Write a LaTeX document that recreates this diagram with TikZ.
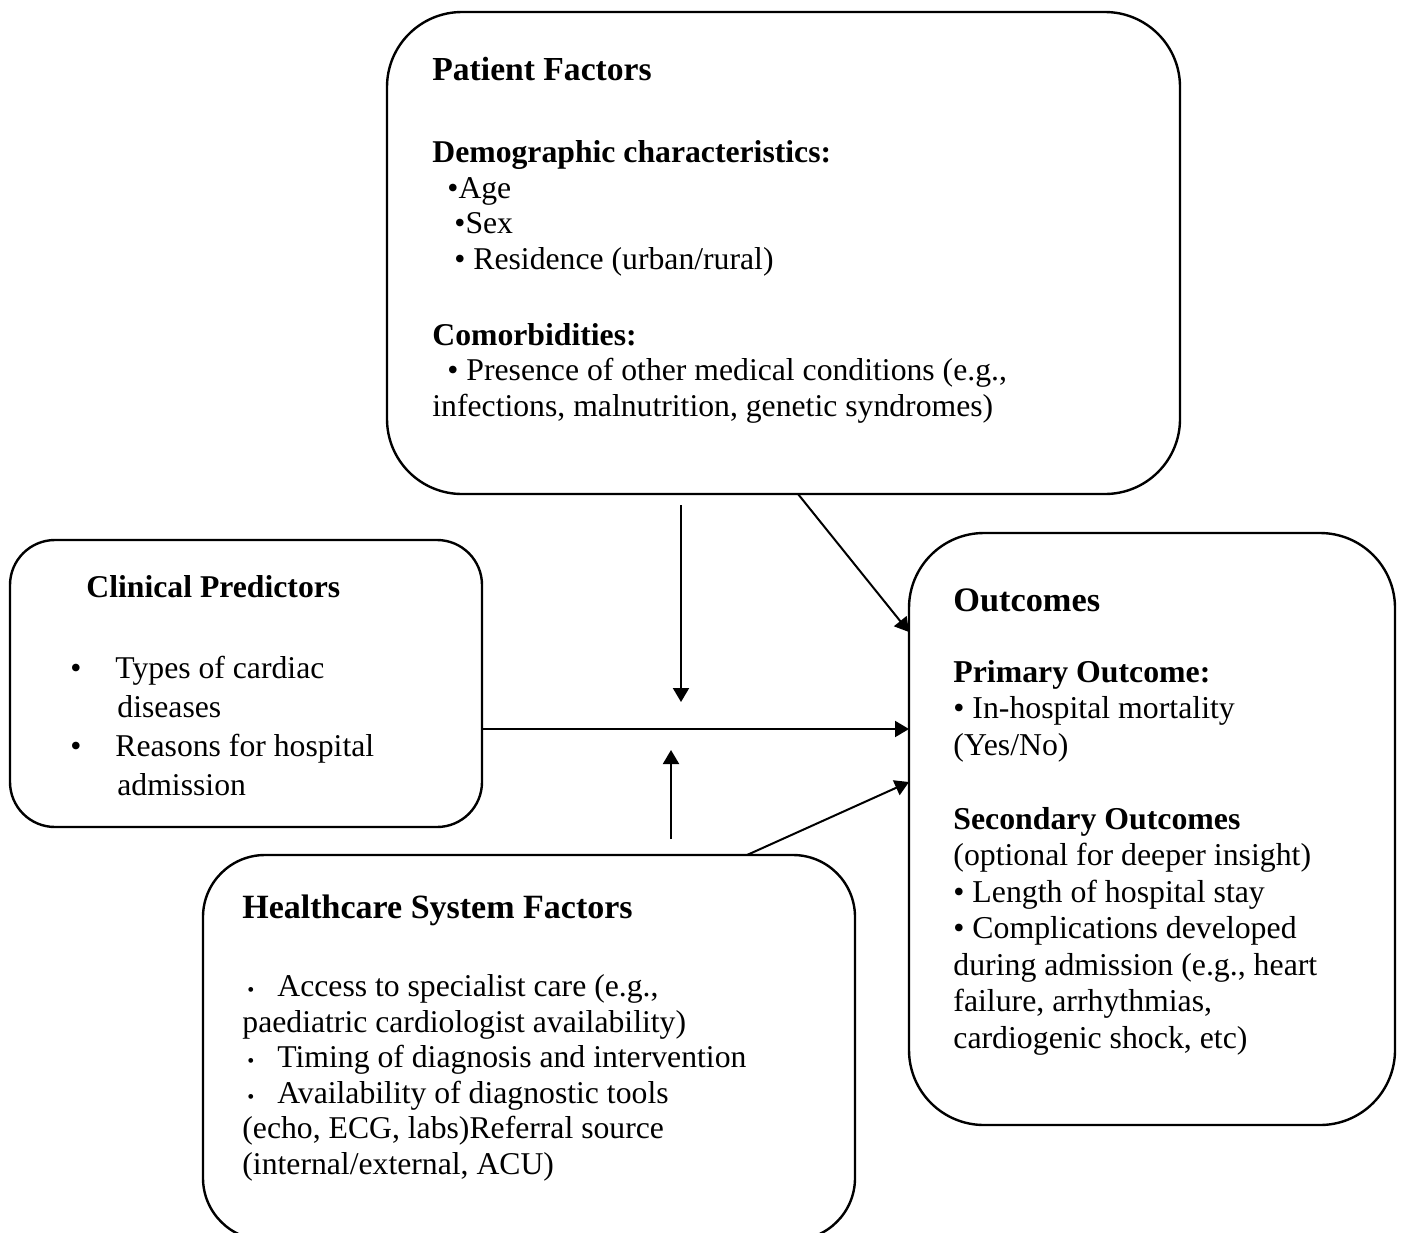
\documentclass[tikz,border=0pt]{standalone}
\usepackage{fontspec}
\setmainfont{Liberation Serif}
\usetikzlibrary{arrows.meta}

\newcommand{\headfont}{\fontsize{17pt}{20pt}\selectfont\bfseries}
\newcommand{\bodyfont}{\fontsize{15.85pt}{17.75pt}\selectfont}
\newcommand{\smallbullet}{{\fontsize{10pt}{10pt}\selectfont\textbullet}}

\begin{document}
\begin{tikzpicture}[x=0.5pt, y=-0.5pt,
	factorbox/.style={draw, line width=1.2pt, outer sep=0pt, inner sep=0pt, anchor=north west},
	boxtext/.style={anchor=base west, align=left, inner sep=0pt},
	link/.style={-{Triangle[length=7pt,width=8pt]}, line width=1pt}]
\useasboundingbox (0,0) rectangle (1402,1232);

% boxes
\node[factorbox, minimum width=396.5pt, minimum height=241pt, rounded corners=37.5pt] (patient) at (387,12) {};
\node[factorbox, minimum width=236pt, minimum height=143.5pt, rounded corners=22.5pt] (clinical) at (10,540) {};
\node[factorbox, minimum width=243pt, minimum height=296pt, rounded corners=37.5pt] (outcomes) at (909,533) {};
\node[factorbox, minimum width=326pt, minimum height=192.5pt, rounded corners=31pt] (healthcare) at (203,855) {};

% texts (anchored at the baseline of their last line)
\node[boxtext, font=\bodyfont] (patienttext) at (432,416) {%
	{\fontsize{16.8pt}{20pt}\selectfont\bfseries Patient Factors}\\[23.25pt]
	\textbf{Demographic characteristics:}\\
	\hspace{7.5pt}\textbullet Age\\
	\hspace{11pt}\textbullet Sex\\
	\hspace{11pt}\textbullet{} Residence (urban/rural)\\[20.25pt]
	\textbf{Comorbidities:}\\
	\hspace{7.5pt}\textbullet{} Presence of other medical conditions (e.g.,\\
	infections, malnutrition, genetic syndromes)};
\node[boxtext, font={\fontsize{15.85pt}{19.5pt}\selectfont}] (clinicaltext) at (70,795) {%
	\hspace{8pt}\textbf{Clinical Predictors}\\[21pt]
	\makebox[22.5pt][l]{\textbullet}Types of cardiac\\
	\hspace{23.5pt}diseases\\
	\makebox[22.5pt][l]{\textbullet}Reasons for hospital\\
	\hspace{23.5pt}admission};
\node[boxtext, font={\fontsize{15.9pt}{18.25pt}\selectfont}] (outcomestext) at (953,1048) {%
	{\fontsize{17.15pt}{20pt}\selectfont\bfseries Outcomes}\\[17.25pt]
	\textbf{Primary Outcome:}\\
	\textbullet{} In-hospital mortality\\
	(Yes/No)\\[18.75pt]
	\textbf{Secondary Outcomes}\\
	(optional for deeper insight)\\
	\textbullet{} Length of hospital stay\\
	\textbullet{} Complications developed\\
	during admission (e.g., heart\\
	failure, arrhythmias,\\
	cardiogenic shock, etc)};
\node[boxtext, font=\bodyfont] (healthcaretext) at (242,1174) {%
	{\headfont Healthcare System Factors}\\[21.25pt]
	\makebox[17.5pt][l]{\hspace{2.5pt}\smallbullet}Access to specialist care (e.g.,\\
	paediatric cardiologist availability)\\
	\makebox[17.5pt][l]{\hspace{2.5pt}\smallbullet}Timing of diagnosis and intervention\\
	\makebox[17.5pt][l]{\hspace{2.5pt}\smallbullet}Availability of diagnostic tools\\
	(echo, ECG, labs)Referral source\\
	(internal/external, ACU)};

% connectors
\coordinate (downstart) at (681,505);
\coordinate (downend) at (681,702);
\coordinate (upstart) at (671,839);
\coordinate (upend) at (671,750);
\coordinate (flow) at (0,729);
\coordinate (pdiag) at (798,0);
\coordinate (pdiagend) at (0,632);
\coordinate (hdiag) at (747,0);
\coordinate (hdiagend) at (0,782);

\draw[link] (downstart) -- (downend);
\draw[link] (upstart) -- (upend);
\draw[link] (clinical.east |- flow) -- (outcomes.west |- flow);
\draw[link] (patient.south -| pdiag) -- (outcomes.west |- pdiagend);
\draw[link] (healthcare.north -| hdiag) -- (outcomes.west |- hdiagend);
\end{tikzpicture}
\end{document}
